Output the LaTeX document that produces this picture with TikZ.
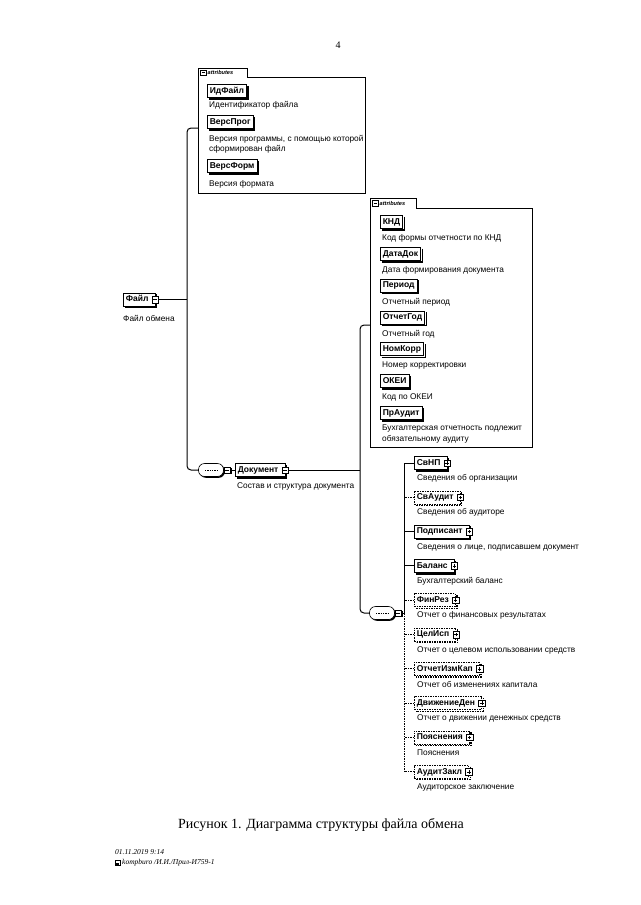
\documentclass[tikz,border=0pt]{standalone}
\usepackage{fontspec}
\setmainfont{Liberation Serif}
\newfontfamily\xsdfont{Liberation Sans}
\usetikzlibrary{positioning,calc,shadows}
\newcommand\boxshadow[2][]{\draw[line width=1.3pt,#1]([shift={(1.3pt,-1.6pt)}]#2.north east)--([shift={(1.3pt,-1.3pt)}]#2.south east)--([shift={(1.6pt,-1.3pt)}]#2.south west);}
\newcommand\expbox[2]{\node[expb] (#1-e) at (#1.east) {};
  \draw[thin] ([xshift=-1.8pt]#1-e.center)--([xshift=1.8pt]#1-e.center);
  \ifx#2+\draw[thin] ([yshift=-1.8pt]#1-e.center)--([yshift=1.8pt]#1-e.center);\fi}
\newcommand\seqbox[2]{\node[seq] (#1) at (#2) {};
  \draw[line width=1pt,dash pattern=on 1.3pt off 1pt] ([xshift=-6pt]#1.center)--([xshift=6pt]#1.center);
  \node[expb,anchor=west,drop shadow={shadow xshift=1pt,shadow yshift=-1pt,opacity=1,fill=black}] (#1-e) at (#1.east) {};
  \draw[thin] ([xshift=-1.8pt]#1-e.center)--([xshift=1.8pt]#1-e.center);}
\tikzset{
  elem/.style={draw,fill=white,line width=.6pt,font=\xsdfont\bfseries\fontsize{8.5}{9}\selectfont,
    inner xsep=2.5pt,inner ysep=0pt,text height=6.2pt,text depth=1.6pt,minimum height=13pt,anchor=west},
  xelem/.style={elem,execute at end node={\hspace{4pt}}},
  descr/.style={font=\xsdfont\fontsize{8.3}{10.5}\selectfont,anchor=west,inner sep=0pt,align=left},
  expb/.style={draw,fill=white,thin,minimum size=6.5pt,inner sep=0pt},
  seq/.style={draw,fill=white,line width=.6pt,rounded corners=6pt,minimum width=25pt,minimum height=13pt,
    drop shadow={shadow xshift=1.3pt,shadow yshift=-1.3pt,opacity=1,fill=black}},
  conn/.style={line width=1pt},
  req/.style={solid},
  opt/.style={dash pattern=on 1.5pt off 1pt},
  frame/.style={line width=.7pt,fill=white},
  tab/.style={font=\xsdfont\bfseries\itshape\fontsize{5.6}{6}\selectfont,inner sep=0pt,anchor=west}
}
\begin{document}
\begin{tikzpicture}[x=1pt,y=-1pt]
\useasboundingbox[fill=white] (0,0) rectangle (640,905);
\node (pg) at (338,45) {\fontsize{10}{12}\selectfont 4};
\draw[frame] (198,193)--(198,68)--(247,68)--(247,77)--(365,77)--(365,193)--cycle;
\node[expb,minimum size=5.5pt] (ta) at (203,72.5) {};
\draw[thin] ([xshift=-1.5pt]ta.center)--([xshift=1.5pt]ta.center);
\node[tab] at (207.5,72.5) {attributes};
\node[elem] (if) at (207,91) {ИдФайл}; \boxshadow{if}
\node[descr] at (209,105.5) {Идентификатор файла};
\node[elem] (vp) at (207,122) {ВерсПрог}; \boxshadow{vp}
\node[descr] at (209,144.5) {Версия программы, с помощью которой\\сформирован файл};
\node[elem] (vf) at (207,166) {ВерсФорм}; \boxshadow{vf}
\node[descr] at (209,184) {Версия формата};
\draw[frame] (370,447)--(370,198)--(416,198)--(416,208)--(532,208)--(532,447)--cycle;
\node[expb,minimum size=5.5pt] (tb) at (375,203) {};
\draw[thin] ([xshift=-1.5pt]tb.center)--([xshift=1.5pt]tb.center);
\node[tab] at (379.5,203) {attributes};
\foreach \nm/\ds [count=\i] in {КНД/Код формы отчетности по КНД,ДатаДок/Дата формирования документа,
  Период/Отчетный период,ОтчетГод/Отчетный год,НомКорр/Номер корректировки,ОКЕИ/Код по ОКЕИ}
{\node[elem] (k\i) at (380,{222+(\i-1)*31.8}) {\nm}; \boxshadow{k\i}
 \node[descr] at (382,{238.5+(\i-1)*31.8}) {\ds};}
\node[elem] (pa) at (380,413) {ПрАудит}; \boxshadow{pa}
\node[descr] at (382,434) {Бухгалтерская отчетность подлежит\\обязательному аудиту};
\node[xelem] (fl) at (123,299.5) {Файл}; \boxshadow{fl} \expbox{fl}{-}
\node[descr] at (123,318) {Файл обмена};
\seqbox{s1}{211,470}
\node[xelem] (doc) at (235,470) {Документ}; \boxshadow{doc} \expbox{doc}{-}
\node[descr] at (237,486) {Состав и структура документа};
\coordinate (j1) at (187,299.5);
\coordinate (fa) at (198,128);
\draw[conn] (fl-e.east) -- (j1);
\draw[conn,rounded corners=4pt] (fa) -| (j1) |- (s1.west);
\draw[conn] (s1-e.east) -- (doc.west);
\seqbox{s2}{382,613}
\coordinate (j2) at (360,470);
\coordinate (fb) at (370,325);
\draw[conn] (doc-e.east) -- (j2);
\draw[conn,rounded corners=4pt] (fb) -| (j2) |- (s2.west);
\coordinate (j3) at (404,613);
\foreach \nm/\ds/\st [count=\i] in {СвНП/Сведения об организации/req,СвАудит/Сведения об аудиторе/opt,
  {Подписант/Сведения о лице, подписавшем документ/req},Баланс/Бухгалтерский баланс/req,
  ФинРез/Отчет о финансовых результатах/opt,ЦелИсп/Отчет о целевом использовании средств/opt,
  ОтчетИзмКап/Отчет об изменениях капитала/opt,ДвижениеДен/Отчет о движении денежных средств/opt,
  Пояснения/Пояснения/opt,АудитЗакл/Аудиторское заключение/opt}
{\node[xelem,\st] (c\i) at (414,{463+(\i-1)*34.3}) {\nm}; \boxshadow[\st]{c\i} \expbox{c\i}{+}
 \node[descr] at (417,{478.5+(\i-1)*34.3}) {\ds};
 \draw[conn,\st] (c\i.west) -- (c\i.west -| j3);}
\draw[conn] (s2-e.east) -- (j3);
\draw[conn] (c1.west) -| (j3);
\draw[conn,opt] (j3) -- (c10.west -| j3);
\node[font=\fontsize{14}{16}\selectfont] (cap) at (321,825) {Рисунок 1. Диаграмма структуры файла обмена};
\node[font=\itshape\fontsize{7.5}{9}\selectfont,anchor=west,inner sep=0pt] (dt) at (115,852) {01.11.2019 9:14};
\draw[thin] (115,860.5) rectangle (120,865.5);
\fill (115.8,863) rectangle (119.2,865);
\node[font=\itshape\fontsize{7.5}{9}\selectfont,anchor=west,inner sep=0pt] (fn) at (122,863) {kompburo /И.И./Прил-И759-1};
\end{tikzpicture}
\end{document}
